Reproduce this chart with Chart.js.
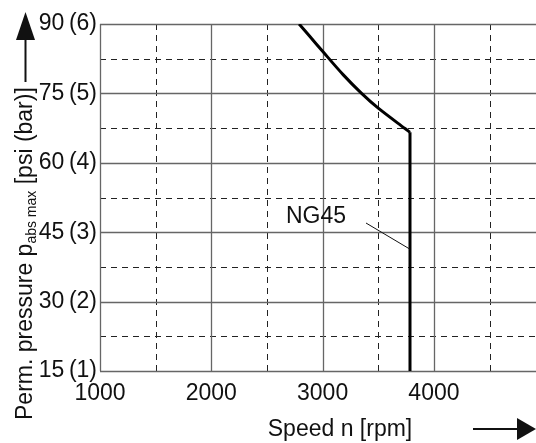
<!DOCTYPE html>
<html>
<head>
<meta charset="utf-8">
<script src="https://cdn.jsdelivr.net/npm/chart.js@4.4.1/dist/chart.umd.min.js"></script>
<style>
  html, body { margin: 0; padding: 0; background: #fff; }
  #wrap { width: 536px; height: 443px; }
</style>
</head>
<body>
<div id="wrap"><canvas id="chart"></canvas></div>
<script>
// curve NG45 (upper bend, then the vertical limit)
const curveSpeed = [2789, 2886, 3000, 3186, 3350, 3500, 3740, 3785];
const curvePressure = [90, 87.3, 84.1, 79.0, 75, 71.8, 67.4, 66.6];
const limitSpeed = [3785, 3785];
const limitPressure = [66.6, 15];

const xTicks = [1000, 2000, 3000, 4000];
const xMinor = [1500, 2500, 3500, 4500];
const yTicks = [15, 30, 45, 60, 75, 90];
const yMinor = [22.5, 37.5, 52.5, 67.5, 82.5];
const barLabels = ['(1)', '(2)', '(3)', '(4)', '(5)', '(6)'];

const FONT = '"Liberation Sans", Arial, sans-serif';
const SIZE = 23;

// grid: solid at the labelled ticks, dashed in between
const gridPlugin = {
  id: 'gridLines',
  beforeDatasetsDraw(chart) {
    const {ctx, chartArea: a, scales: {x, y}} = chart;
    ctx.save();
    ctx.lineWidth = 1;
    ctx.strokeStyle = '#222';
    ctx.setLineDash([6, 5]);
    xMinor.forEach(v => {
      const px = Math.round(x.getPixelForValue(v)) + 0.5;
      ctx.beginPath(); ctx.moveTo(px, a.top); ctx.lineTo(px, a.bottom); ctx.stroke();
    });
    yMinor.forEach(v => {
      const py = Math.round(y.getPixelForValue(v)) + 0.5;
      ctx.beginPath(); ctx.moveTo(a.left, py); ctx.lineTo(a.right, py); ctx.stroke();
    });
    ctx.setLineDash([]);
    ctx.strokeStyle = '#666';
    ctx.lineWidth = 1.3;
    xTicks.forEach(v => {
      const px = Math.round(x.getPixelForValue(v)) + 0.5;
      ctx.beginPath(); ctx.moveTo(px, a.top); ctx.lineTo(px, a.bottom); ctx.stroke();
    });
    yTicks.forEach(v => {
      const py = Math.round(y.getPixelForValue(v)) + 0.5;
      ctx.beginPath(); ctx.moveTo(a.left, py); ctx.lineTo(a.right, py); ctx.stroke();
    });
    ctx.restore();
  },
  afterDraw(chart) {
    const {ctx, scales: {x, y}} = chart;
    ctx.save();
    ctx.fillStyle = '#111';
    ctx.strokeStyle = '#111';

    // x title + arrow
    ctx.font = SIZE + 'px ' + FONT;
    ctx.textAlign = 'center';
    ctx.textBaseline = 'middle';
    ctx.fillText('Speed n [rpm]', 340, 430);
    ctx.lineWidth = 2;
    ctx.beginPath(); ctx.moveTo(473, 429); ctx.lineTo(518, 429); ctx.stroke();
    ctx.beginPath(); ctx.moveTo(517, 418); ctx.lineTo(536, 429); ctx.lineTo(517, 440); ctx.closePath(); ctx.fill();

    // y title, rotated, with subscript
    ctx.save();
    ctx.translate(32, 420);
    ctx.rotate(-Math.PI / 2);
    ctx.textAlign = 'left';
    ctx.textBaseline = 'alphabetic';
    let cx = 0;
    const parts = [
      ['Perm. pressure p', SIZE, 0],
      ['abs max', 14, 4],
      [' [psi (bar)]', SIZE, 0]
    ];
    parts.forEach(([t, size, dy]) => {
      ctx.font = size + 'px ' + FONT;
      ctx.fillText(t, cx, dy);
      cx += ctx.measureText(t).width;
    });
    ctx.restore();
    ctx.lineWidth = 2;
    ctx.beginPath(); ctx.moveTo(25.5, 82); ctx.lineTo(25.5, 38); ctx.stroke();
    ctx.beginPath(); ctx.moveTo(16, 40); ctx.lineTo(25.5, 12); ctx.lineTo(35, 40); ctx.closePath(); ctx.fill();

    // curve label with leader line
    ctx.font = SIZE + 'px ' + FONT;
    ctx.textAlign = 'left';
    ctx.textBaseline = 'middle';
    ctx.fillText('NG45', 286, 217);
    ctx.lineWidth = 1;
    ctx.beginPath();
    ctx.moveTo(366, 223);
    ctx.lineTo(x.getPixelForValue(limitSpeed[0]), y.getPixelForValue(45) + 17);
    ctx.stroke();
    ctx.restore();
  }
};

new Chart(document.getElementById('chart'), {
  type: 'scatter',
  data: {
    datasets: [{
      label: 'NG45',
      data: curveSpeed.map((s, i) => ({x: s, y: curvePressure[i]})),
      showLine: true,
      borderColor: '#000',
      borderWidth: 3,
      pointRadius: 0,
      tension: 0.3
    }, {
      label: 'NG45 limit',
      data: limitSpeed.map((s, i) => ({x: s, y: limitPressure[i]})),
      showLine: true,
      borderColor: '#000',
      borderWidth: 3,
      pointRadius: 0,
      tension: 0
    }]
  },
  options: {
    responsive: true,
    maintainAspectRatio: false,
    animation: false,
    layout: {padding: {top: 24, right: 0, left: 0, bottom: 0}},
    plugins: {legend: {display: false}, tooltip: {enabled: false}},
    scales: {
      x: {
        type: 'linear',
        min: 1000,
        max: 4917,
        afterBuildTicks: s => { s.ticks = xTicks.map(v => ({value: v})); },
        afterFit: s => { s.height = 72; },
        grid: {display: false, drawTicks: false},
        border: {display: false},
        ticks: {
          autoSkip: false,
          maxRotation: 0,
          padding: 9,
          color: '#111',
          font: {family: FONT, size: SIZE},
          callback: v => String(v)
        }
      },
      y: {
        type: 'linear',
        min: 15,
        max: 90,
        afterBuildTicks: s => { s.ticks = yTicks.map(v => ({value: v})); },
        afterFit: s => { s.width = 100; },
        grid: {display: false, drawTicks: false},
        border: {display: false},
        ticks: {
          autoSkip: false,
          padding: 3,
          color: '#111',
          font: {family: FONT, size: SIZE},
          callback: v => v + '\u2009' + barLabels[yTicks.indexOf(v)]
        }
      }
    }
  },
  plugins: [gridPlugin]
});
</script>
</body>
</html>
